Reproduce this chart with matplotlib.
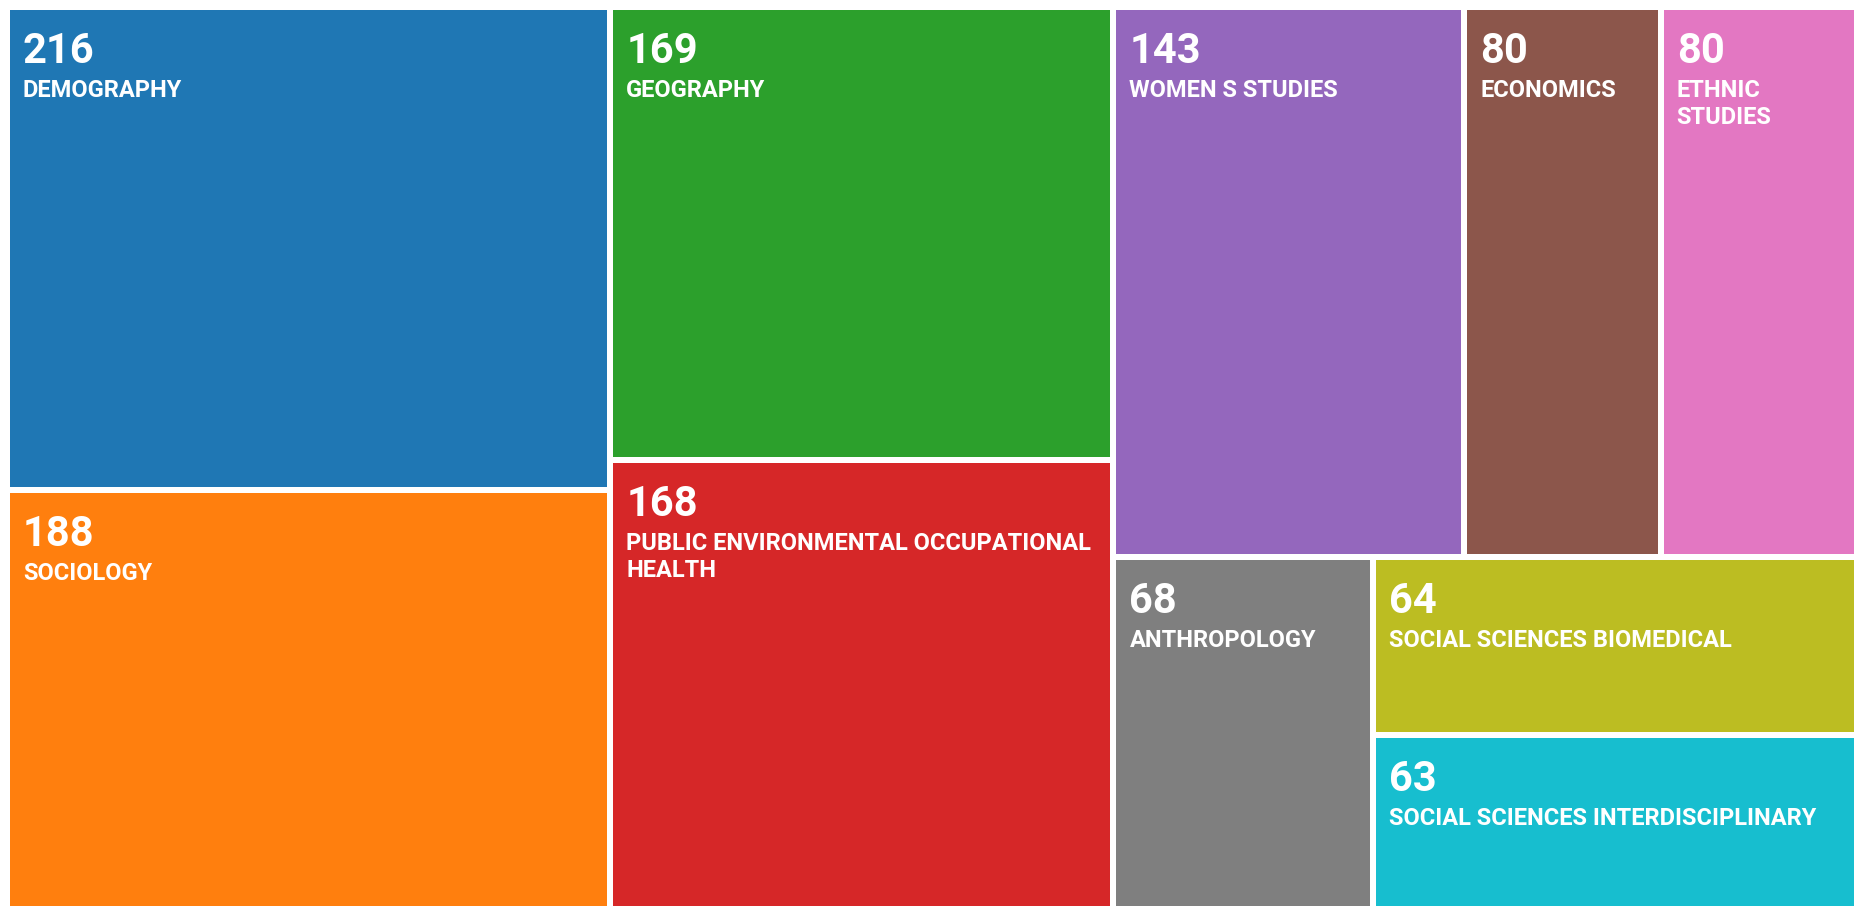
import matplotlib
matplotlib.use("Agg")
import matplotlib.pyplot as plt
from matplotlib.patches import Rectangle
from matplotlib.font_manager import FontProperties

# --- DATA ---
categories = [
    "DEMOGRAPHY",
    "SOCIOLOGY",
    "GEOGRAPHY",
    "PUBLIC ENVIRONMENTAL OCCUPATIONAL HEALTH",
    "WOMEN S STUDIES",
    "ECONOMICS",
    "ETHNIC STUDIES",
    "ANTHROPOLOGY",
    "SOCIAL SCIENCES BIOMEDICAL",
    "SOCIAL SCIENCES INTERDISCIPLINARY",
]
counts = [216, 188, 169, 168, 143, 80, 80, 68, 64, 63]
colors = ["#1f77b4", "#ff7f0e", "#2ca02c", "#d62728", "#9467bd",
          "#8c564b", "#e377c2", "#7f7f7f", "#bcbd22", "#17becf"]

# strips of the squarified layout (indices into the lists above)
strips = [[0, 1], [2, 3], [4, 5, 6], [7], [8, 9]]

# --- CONFIGURATION ---
FIG_W, FIG_H = 1857, 906
CANVAS = (7, 7, 1857, 911)   # treemap box in pixels, bottom runs past the image
PAD = 3                      # half of the white gap between tiles
TEXT_X = 13
NUM_BASE = 53
LABEL_BASE = 87
LINE_STEP = 27
NUM_SIZE = 30
LABEL_SIZE = 17

plt.rcParams['font.family'] = ['Roboto', 'DejaVu Sans']


def strip_layout(values, strips, x0, y0, x1, y1):
    """Place each strip as a row (tall box) or a column (wide box), d3 style."""
    rects = {}
    remaining = float(sum(values))
    for strip in strips:
        s = sum(values[i] for i in strip)
        dx, dy = x1 - x0, y1 - y0
        if dx < dy:
            h = dy * s / remaining
            x = x0
            for i in strip:
                w = dx * values[i] / s
                rects[i] = (x, y0, w, h)
                x += w
            y0 += h
        else:
            w = dx * s / remaining
            y = y0
            for i in strip:
                h = dy * values[i] / s
                rects[i] = (x0, y, w, h)
                y += h
            x0 += w
        remaining -= s
    return rects


def wrap_words(text, max_w, fp, renderer):
    lines, cur = [], ""
    for word in text.split():
        trial = word if not cur else cur + " " + word
        w, _, _ = renderer.get_text_width_height_descent(trial, fp, ismath=False)
        if cur and w > max_w:
            lines.append(cur)
            cur = word
        else:
            cur = trial
    if cur:
        lines.append(cur)
    return lines


fig = plt.figure(figsize=(FIG_W / 100, FIG_H / 100), dpi=100)
ax = fig.add_axes([0, 0, 1, 1])
ax.set_xlim(0, FIG_W)
ax.set_ylim(FIG_H, 0)
ax.axis('off')

renderer = fig.canvas.get_renderer()
label_fp = FontProperties(family=['Roboto', 'DejaVu Sans'], weight='bold', size=LABEL_SIZE)

rects = strip_layout(counts, strips, *CANVAS)

for i, (name, value, color) in enumerate(zip(categories, counts, colors)):
    x, y, w, h = rects[i]
    tile = Rectangle((x + PAD, y + PAD), w - 2 * PAD, h - 2 * PAD,
                     facecolor=color, edgecolor='none')
    ax.add_patch(tile)

    tx = x + PAD + TEXT_X
    ty = y + PAD
    t = ax.text(tx, ty + NUM_BASE, str(value), color='white', fontsize=NUM_SIZE,
                fontweight='bold', ha='left', va='baseline')
    t.set_clip_path(tile)

    lines = wrap_words(name, w - 2 * PAD - TEXT_X - 6, label_fp, renderer)
    for k, line in enumerate(lines):
        t = ax.text(tx, ty + LABEL_BASE + k * LINE_STEP, line, color='white',
                    fontproperties=label_fp, ha='left', va='baseline')
        t.set_clip_path(tile)

fig.savefig('out.png', dpi=100, facecolor='white')
